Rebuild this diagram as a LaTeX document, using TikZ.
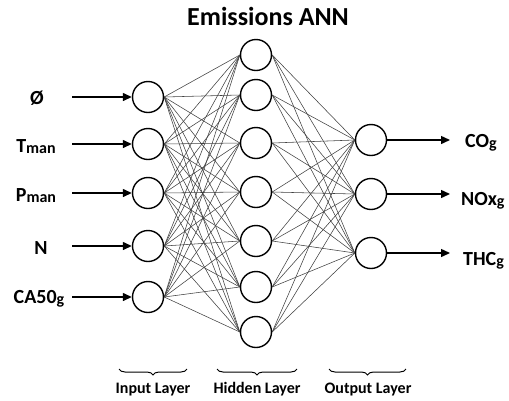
\documentclass[tikz,border=0pt]{standalone}
\usepackage{fontspec}
\setmainfont{Carlito}
\usetikzlibrary{arrows.meta,decorations.pathreplacing}
\newcommand\lowsub[1]{\raisebox{-1.5pt}{\fontsize{16}{18}\selectfont #1}}
\begin{document}
\begin{tikzpicture}[x=1pt,y=-1pt,
  neuron/.style={circle,draw,line width=1.4pt,minimum size=31pt,inner sep=0pt},
  link/.style={draw=black!75,line width=0.55pt},
  io/.style={line width=1.4pt,-{Triangle[length=9pt,width=8pt]}},
  lbl/.style={font=\bfseries\fontsize{20}{24}\selectfont,inner sep=0pt},
  layerlbl/.style={font=\bfseries\fontsize{16}{19}\selectfont,inner sep=0pt,anchor=base},
  brc/.style={decorate,decoration={brace,mirror,amplitude=6pt},line width=1pt}]
\useasboundingbox (0,0) rectangle (509,400);
\node[font=\bfseries\fontsize{26}{30}\selectfont,inner sep=0pt] (title) at (268,16) {Emissions ANN};
% input layer
\foreach \n/\y in {1/97,2/144,3/193,4/246,5/297}
  \node[neuron] (i\n) at (148,\y) {};
% hidden layer
\foreach \n/\y in {1/55,2/95,3/143,4/192,5/241,6/287,7/332}
  \node[neuron] (h\n) at (256,\y) {};
% output layer
\foreach \n/\y in {1/140,2/194,3/253}
  \node[neuron] (o\n) at (371,\y) {};
% connections
\foreach \a in {1,...,5}
  \foreach \b in {1,...,7}
    \draw[link] (i\a.east) -- (h\b.west);
\foreach \a in {1,...,7}
  \foreach \b in {1,...,3}
    \draw[link] (h\a.east) -- (o\b.west);
% input labels and arrows
\node[lbl,anchor=base] (l1) at (37,104) {Ø};
\node[lbl,anchor=base] (l2) at (36,152) {T\lowsub{man}};
\node[lbl,anchor=base] (l3) at (36,201) {P\lowsub{man}};
\node[lbl,anchor=base] (l4) at (41,254) {N};
\node[lbl,anchor=base] (l5) at (39,303) {CA50\lowsub{g}};
\foreach \n/\y in {1/97,2/144,3/193,4/246,5/297}
  \coordinate (s\n) at (72,\y);
\foreach \n in {1,...,5}
  \draw[io] (s\n) -- (i\n.west);
% outputs
\foreach \n/\y in {1/140,2/194,3/253}
  \coordinate (t\n) at (450,\y);
\foreach \n in {1,2,3}
  \draw[io] (o\n.east) -- (t\n);
\node[lbl,anchor=base west] (r1) at (465,147) {CO\lowsub{g}};
\node[lbl,anchor=base west] (r2) at (461,205) {NOx\lowsub{g}};
\node[lbl,anchor=base west] (r3) at (463,265) {THC\lowsub{g}};
% braces
\coordinate (b1a) at (119,369); \coordinate (b1b) at (187,369);
\coordinate (b2a) at (217,369); \coordinate (b2b) at (297,369);
\coordinate (b3a) at (329,369); \coordinate (b3b) at (406,369);
\draw[brc] (b1a) -- (b1b);
\draw[brc] (b2a) -- (b2b);
\draw[brc] (b3a) -- (b3b);
\node[layerlbl] (L1) at (153,393) {Input Layer};
\node[layerlbl] (L2) at (257,393) {Hidden Layer};
\node[layerlbl] (L3) at (368,393) {Output Layer};
\end{tikzpicture}
\end{document}
